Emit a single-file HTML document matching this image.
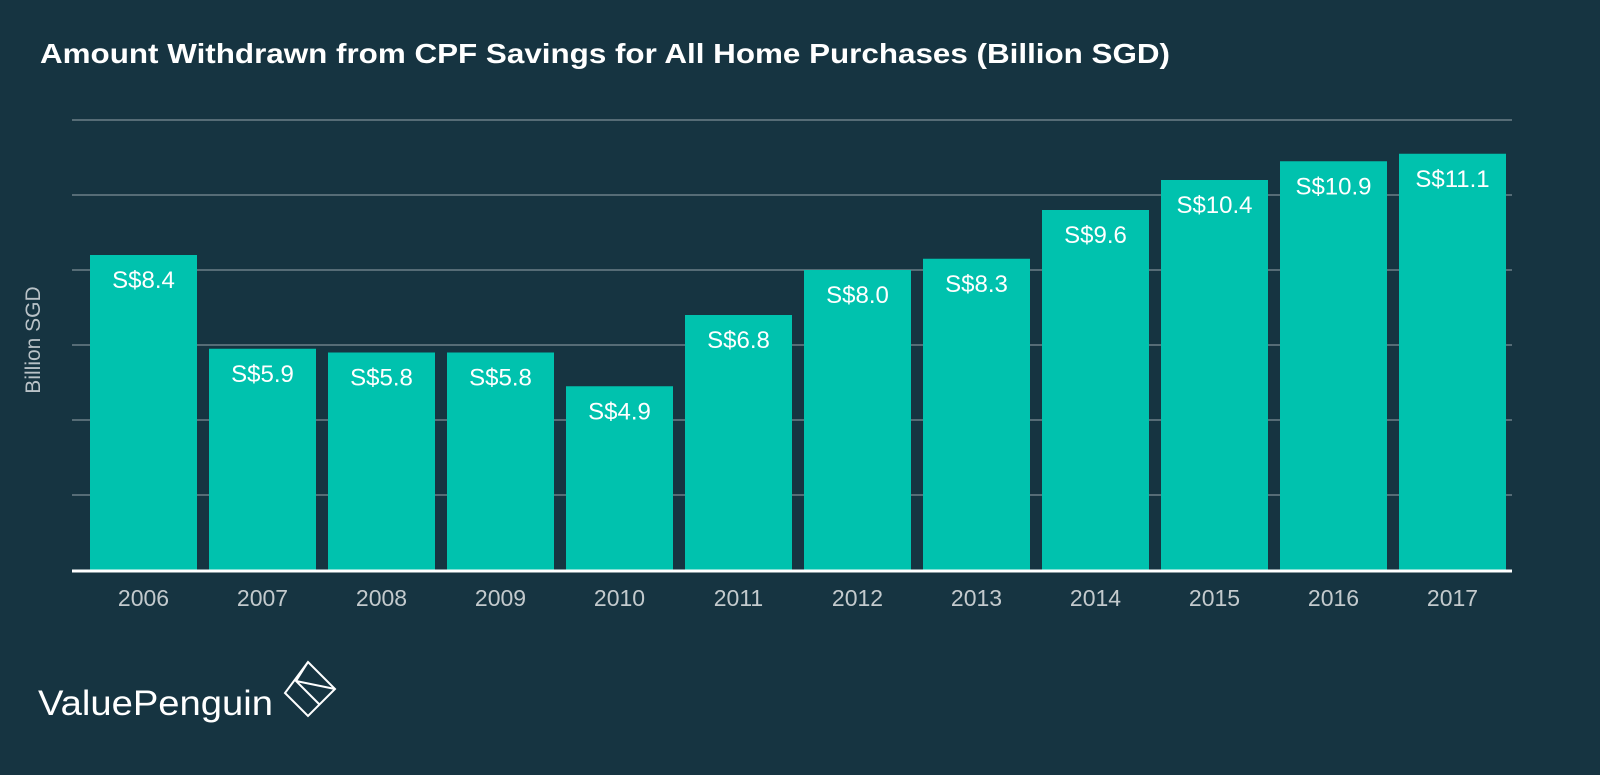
<!DOCTYPE html>
<html><head><meta charset="utf-8"><style>
body{margin:0;background:#163441;}
svg{display:block;font-family:"Liberation Sans",sans-serif;}
</style></head><body>
<svg width="1600" height="775" viewBox="0 0 1600 775">
<rect width="1600" height="775" fill="#163441"/>
<text x="40" y="63" font-size="28" font-weight="bold" fill="#ffffff" textLength="1130" lengthAdjust="spacingAndGlyphs">Amount Withdrawn from CPF Savings for All Home Purchases (Billion SGD)</text>
<text transform="translate(40,340) rotate(-90)" text-anchor="middle" font-size="21" fill="#b9c2c7">Billion SGD</text>
<g id="grid"></g>
<g id="bars"></g>
<g id="labels"></g>
<g>
<text x="38" y="715" font-size="35" fill="#ffffff" textLength="235" lengthAdjust="spacingAndGlyphs">ValuePenguin</text>
<g fill="none" stroke="#ffffff" stroke-width="2">
<path d="M308 662 L335 689 L308 716 L285 693 Z"/>
<path d="M308 662 L296 681 L320 705"/>
<path d="M296 681 L335 689"/>
</g>
</g>
</svg>
<script>
const categories=["2006","2007","2008","2009","2010","2011","2012","2013","2014","2015","2016","2017"];
const values=[8.4,5.9,5.8,5.8,4.9,6.8,8.0,8.3,9.6,10.4,10.9,11.1];
const valueLabels=["S$8.4","S$5.9","S$5.8","S$5.8","S$4.9","S$6.8","S$8.0","S$8.3","S$9.6","S$10.4","S$10.9","S$11.1"];
const yTicks=[0,2,4,6,8,10,12];
const NS="http://www.w3.org/2000/svg";
const base=570, perUnit=37.5, x0=90, step=119, bw=107;
function y(v){return base-v*perUnit;}
function x(i){return x0+i*step;}
const grid=document.getElementById('grid');
yTicks.forEach(t=>{
  if(t===0)return;
  const l=document.createElementNS(NS,'line');
  l.setAttribute('x1',72);l.setAttribute('x2',1512);
  l.setAttribute('y1',y(t));l.setAttribute('y2',y(t));
  l.setAttribute('stroke','#6b7f88');l.setAttribute('stroke-width','1.5');
  
  
  grid.appendChild(l);
});
const bars=document.getElementById('bars'),labels=document.getElementById('labels');
values.forEach((v,i)=>{
  const r=document.createElementNS(NS,'rect');
  r.setAttribute('x',x(i));r.setAttribute('y',y(v));
  r.setAttribute('width',bw);r.setAttribute('height',base-y(v));
  r.setAttribute('fill','#00c2ae');
  
  
  bars.appendChild(r);
  const t=document.createElementNS(NS,'text');
  t.setAttribute('x',x(i)+bw/2);t.setAttribute('y',y(v)+33);
  t.setAttribute('text-anchor','middle');t.setAttribute('font-size','24');t.setAttribute('fill','#ffffff');
  t.textContent=valueLabels[i];
  
  
  labels.appendChild(t);
  const c=document.createElementNS(NS,'text');
  c.setAttribute('x',x(i)+bw/2);c.setAttribute('y',606);
  c.setAttribute('text-anchor','middle');c.setAttribute('font-size','23');c.setAttribute('fill','#c3cacd');
  c.textContent=categories[i];
  
  
  labels.appendChild(c);
});
const ax=document.createElementNS(NS,'line');
ax.setAttribute('x1',72);ax.setAttribute('x2',1512);ax.setAttribute('y1',base+1);ax.setAttribute('y2',base+1);
ax.setAttribute('stroke','#ffffff');ax.setAttribute('stroke-width','3');


labels.appendChild(ax);
</script>
</body></html>
